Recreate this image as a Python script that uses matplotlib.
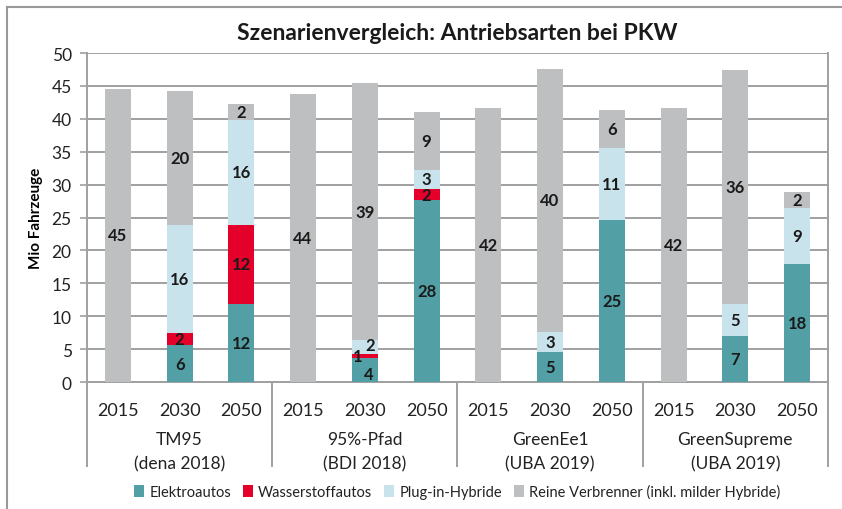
import numpy as np
import matplotlib.pyplot as plt
from matplotlib.patches import Patch
from matplotlib.lines import Line2D
from matplotlib.transforms import blended_transform_factory

plt.rcParams['font.family'] = ['Lato', 'DejaVu Sans']

# Daten (Mio Fahrzeuge)
jahre = ['2015', '2030', '2050'] * 4
szenarien = ['TM95\n(dena 2018)', '95%-Pfad\n(BDI 2018)', 'GreenEe1\n(UBA 2019)', 'GreenSupreme\n(UBA 2019)']

elektro     = [0, 5.6, 11.9, 0, 3.7, 27.6, 0, 4.6, 24.6, 0, 7.0, 17.9]
wasserstoff = [0, 1.9, 12.0, 0, 0.6, 1.8, 0, 0, 0, 0, 0, 0]
plugin      = [0, 16.4, 16.0, 0, 2.1, 2.8, 0, 3.0, 10.9, 0, 4.9, 8.6]
verbrenner  = [44.6, 20.4, 2.4, 43.8, 39.0, 8.8, 41.7, 40.0, 5.8, 41.7, 35.6, 2.4]

serien = ['Elektroautos', 'Wasserstoffautos', 'Plug-in-Hybride', 'Reine Verbrenner (inkl. milder Hybride)']
farben = ['#52a0a6', '#e4002b', '#c9e3ec', '#bebfc1']

grau = '#a0a0a0'

# Verschiebung (Punkte) für enge Beschriftungen: (Balken, Serie) -> (dx, dy)
versatz = {(4, 0): (3, -3), (4, 1): (-5, 0), (4, 2): (4, 1)}

fig = plt.figure(figsize=(8.42, 5.10), dpi=100)
ax = fig.add_axes([0.1033, 0.249, 0.880, 0.645])

x = np.arange(len(jahre))
breite = 0.42
unten = np.zeros(len(jahre))
for k, (werte, farbe) in enumerate(zip([elektro, wasserstoff, plugin, verbrenner], farben)):
    werte = np.array(werte)
    ax.bar(x, werte, breite, bottom=unten, color=farbe, zorder=3)
    for i, (xi, b, w) in enumerate(zip(x, unten, werte)):
        if w > 0:
            dx, dy = versatz.get((i, k), (0, 0))
            ax.annotate(f'{round(w)}', (xi, b + w / 2), xytext=(dx, dy),
                        textcoords='offset points', ha='center', va='center',
                        fontsize=12, fontweight='bold', color='#1a1a1a', zorder=4)
    unten += werte

ax.set_xlim(-0.5, len(jahre) - 0.5)
ax.set_ylim(0, 50)
ax.set_yticks(np.arange(0, 51, 5))
ax.yaxis.grid(True, color=grau, linewidth=1.4, zorder=0)
ax.set_axisbelow(True)
ax.tick_params(axis='y', direction='out', length=5, width=1.2, color=grau,
               labelsize=12.5, labelcolor='#222222', pad=6)
ax.set_xticks([])
for s in ['left', 'right', 'bottom']:
    ax.spines[s].set_color(grau)
    ax.spines[s].set_linewidth(1.4)
ax.spines['top'].set_visible(False)
ax.set_ylabel('Mio Fahrzeuge', fontsize=11, fontweight='bold', labelpad=6)

# Kategorienachse mit Jahren und Szenarien
trans = blended_transform_factory(ax.transData, ax.transAxes)
for xi, j in zip(x, jahre):
    ax.text(xi, -0.085, j, transform=trans, ha='center', va='center',
            fontsize=13, color='#222222')
for i, name in enumerate(szenarien):
    ax.text(3 * i + 1, -0.21, name, transform=trans, ha='center', va='center',
            fontsize=12.5, color='#222222', linespacing=1.6)
for xs in [-0.5, 2.5, 5.5, 8.5, 11.5]:
    ax.add_line(Line2D([xs, xs], [0, -0.255], transform=trans, color=grau,
                       linewidth=1.4, clip_on=False))

fig.suptitle('Szenarienvergleich: Antriebsarten bei PKW', x=0.543, y=0.955,
             fontsize=16.5, fontweight='bold', color='#1a1a1a')

handles = [Patch(facecolor=f, edgecolor='none') for f in farben]
fig.legend(handles, serien, loc='center', bbox_to_anchor=(0.543, 0.035), ncol=4,
           frameon=False, fontsize=10.5, handlelength=0.7, handleheight=0.9,
           handletextpad=0.35, columnspacing=0.8, labelcolor='#222222')

# Rahmen
fig.add_artist(Line2D([7 / 842, 7 / 842], [0, 1 - 8 / 510], transform=fig.transFigure,
                      color='#999999', linewidth=1.5))
fig.add_artist(Line2D([7 / 842, 1], [1 - 8 / 510, 1 - 8 / 510], transform=fig.transFigure,
                      color='#999999', linewidth=1.5))

fig.savefig('out.png', dpi=100)
